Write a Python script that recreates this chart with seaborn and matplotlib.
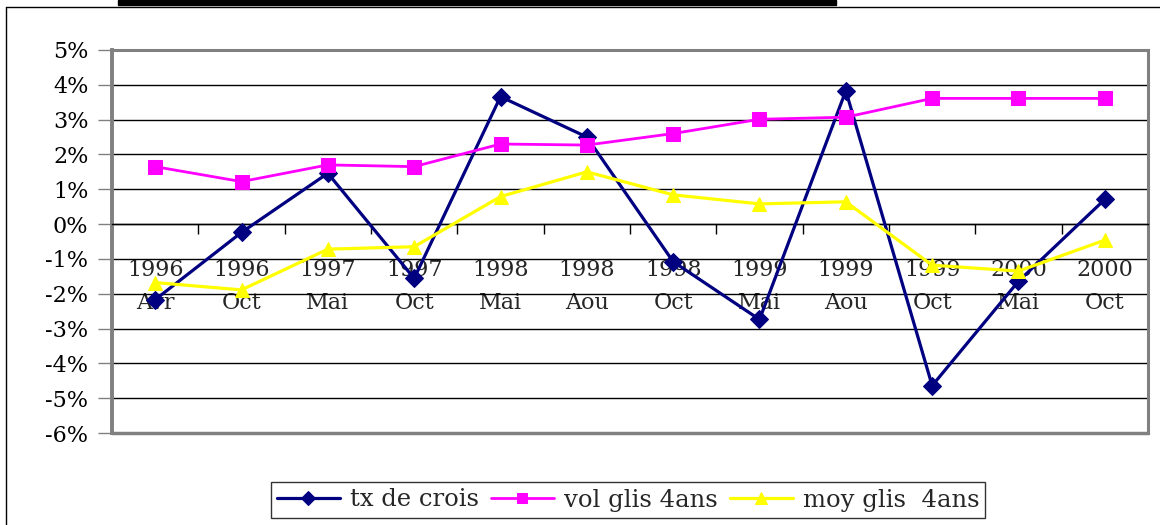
import numpy as np
import pandas as pd
import matplotlib
matplotlib.use("Agg")
import matplotlib.pyplot as plt
import seaborn as sns
from matplotlib.lines import Line2D
from matplotlib.patches import Rectangle
from matplotlib.font_manager import FontProperties

years = ['1996', '1996', '1997', '1997', '1998', '1998', '1998', '1999', '1999', '1999', '2000', '2000']
months = ['Avr', 'Oct', 'Mai', 'Oct', 'Mai', 'Aou', 'Oct', 'Mai', 'Aou', 'Oct', 'Mai', 'Oct']
tx_de_crois = [-2.17, -0.24, 1.46, -1.56, 3.66, 2.50, -1.08, -2.74, 3.83, -4.64, -1.64, 0.71]
vol_glis = [1.65, 1.22, 1.70, 1.65, 2.30, 2.27, 2.60, 3.01, 3.07, 3.61, 3.61, 3.61]
moy_glis = [-1.68, -1.89, -0.72, -0.65, 0.79, 1.50, 0.84, 0.58, 0.64, -1.18, -1.35, -0.46]
series_names = ['tx de crois', 'vol glis 4ans', 'moy glis  4ans']
y_ticks = list(range(-6, 6))

sns.set_style('white')
plt.rcParams['font.family'] = ['serif']
plt.rcParams['font.serif'] = ['DejaVu Serif']

W, H = 1160, 525
fig = plt.figure(figsize=(W / 100, H / 100), dpi=100)
ax = fig.add_axes([112 / W, 92 / H, 1036 / W, 383 / H])

pos = np.arange(len(months))
df = pd.DataFrame({'pos': pos, 'tx': tx_de_crois, 'vol': vol_glis, 'moy': moy_glis})

styles = [
    ('tx', series_names[0], '#000080', 'D', 9, 2.3),
    ('vol', series_names[1], '#FF00FF', 's', 9.5, 2.0),
    ('moy', series_names[2], '#FFFF00', '^', 10, 2.3),
]
for col, name, color, mk, ms, lw in styles:
    sns.lineplot(data=df, x='pos', y=col, ax=ax, color=color, marker=mk,
                 markersize=ms, markeredgecolor=color, linewidth=lw,
                 label=name, zorder=3)

ax.set_xlim(-0.5, len(months) - 0.5)
ax.set_ylim(-6, 5)
ax.set_xlabel('')
ax.set_ylabel('')

ax.set_yticks(y_ticks, labels=[f"{v}%" for v in y_ticks])
ax.tick_params(axis='y', which='major', left=True, length=10, width=1,
               color='#808080', pad=7, labelsize=16, labelcolor='black')

# year row on the main x axis (which crosses at 0%)
ax.set_xticks(pos, labels=years)
ax.set_xticks(np.arange(-0.5, len(months), 1), minor=True)
ax.tick_params(axis='x', which='major', bottom=True, length=0, pad=25, labelsize=16)
ax.tick_params(axis='x', which='minor', bottom=True, direction='out', length=7,
               width=1, color='black')

# month row on a secondary axis at the same height
zero_frac = (0 - (-6)) / (5 - (-6))
sec = ax.secondary_xaxis(zero_frac)
sec.xaxis.set_ticks_position('bottom')
sec.xaxis.set_label_position('bottom')
sec.set_xticks(pos, labels=months)
sec.tick_params(axis='x', which='both', top=False, labeltop=False,
                bottom=True, labelbottom=True, length=0, pad=49, labelsize=16)
for s in sec.spines.values():
    s.set_visible(False)

ax.yaxis.grid(True, color='black', linewidth=1)
ax.xaxis.grid(False)
ax.set_axisbelow(True)

ax.spines['bottom'].set_position(('data', 0))
ax.spines['bottom'].set_color('black')
ax.spines['bottom'].set_linewidth(1)
for s in ['top', 'right']:
    ax.spines[s].set_color('#808080')
    ax.spines[s].set_linewidth(2.2)
ax.spines['left'].set_color('#808080')
ax.spines['left'].set_linewidth(2.8)
ax.axhline(-6, color='#808080', linewidth=2.5, clip_on=False, zorder=4)

handles, labels = ax.get_legend_handles_labels()
if ax.get_legend() is not None:
    ax.get_legend().remove()
leg = fig.legend(handles, labels, loc='center', bbox_to_anchor=(628 / W, 25 / H),
                 ncol=3, frameon=True, fancybox=False, edgecolor='black',
                 prop=FontProperties(family='serif', size=17.5),
                 handlelength=2.6, columnspacing=0.5,
                 handletextpad=0.4, borderpad=0.25, markerscale=0.8)
leg.get_frame().set_linewidth(1)

fig.add_artist(Line2D([6 / W, 1], [1 - 7 / H, 1 - 7 / H], color='black', linewidth=1))
fig.add_artist(Line2D([6 / W, 6 / W], [0, 1 - 7 / H], color='black', linewidth=1))
fig.add_artist(Rectangle((118 / W, 1 - 5 / H), (836 - 118) / W, 5 / H,
                         transform=fig.transFigure, color='black'))

fig.savefig('out.png', dpi=100)
